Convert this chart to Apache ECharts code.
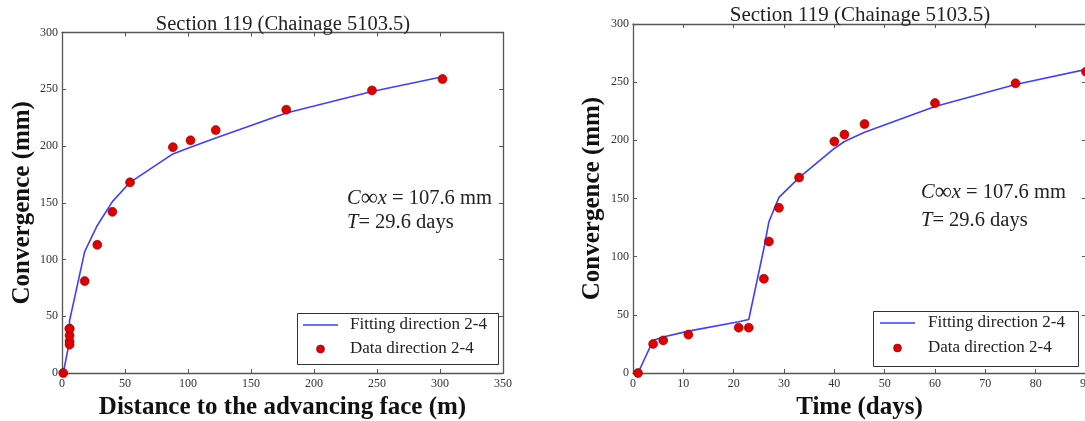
<!DOCTYPE html>
<html>
<head>
<meta charset="utf-8">
<script src="https://cdn.jsdelivr.net/npm/echarts@6/dist/echarts.min.js"></script>
<style>
html,body{margin:0;padding:0;background:#fff;}
#chart{width:1085px;height:421px;}
</style>
</head>
<body>
<div id="chart"></div>
<script>
// ---- data ----
const titleText = 'Section 119 (Chainage 5103.5)';
const distance = [1, 6, 6, 6, 6, 6, 18, 28, 40, 54, 88, 102, 122, 178, 246, 302];   // m
const days     = [1, 4, 6, 11, 21, 23, 26, 27, 29, 33, 40, 42, 46, 60, 76, 90];     // days
const measured = [0, 25, 28, 33, 39, 39, 81, 113, 142, 168, 199, 205, 214, 232, 249, 259];
const fitted   = [0, 28, 31, 36, 44, 46, 107, 130, 151, 168, 193, 199, 207, 229, 248, 261];
const leftXTicks  = {min: 0, max: 350, interval: 50};
const rightXTicks = {min: 0, max: 90, interval: 10};
const yTicks      = {min: 0, max: 300, interval: 50};
const fitName  = 'Fitting direction 2-4';
const dataName = 'Data direction 2-4';

const FONT = 'Liberation Serif';
const AX = '#555';
const LINE_C = '#3f3fff';
const DOT_C = '#e00000';

function pairs(xs, ys){ return xs.map((x,i)=>[x, ys[i]]); }

function xAx(grid, ticks, pos, name){
  return {
    type:'value', gridIndex:grid, position:pos, min:ticks.min, max:ticks.max, interval:ticks.interval,
    axisLine:{show:true, onZero:false, lineStyle:{color:AX, width:1.3}},
    axisTick:{show:true, inside:true, length:4, lineStyle:{color:AX}},
    axisLabel:{show: pos==='bottom', fontFamily:FONT, fontSize:12, color:'#333', margin:5, hideOverlap:false},
    splitLine:{show:false},
    name: name || '', nameLocation:'middle', nameGap:15,
    nameTextStyle:{fontFamily:FONT, fontSize:25, fontWeight:'bold', color:'#111'}
  };
}
function yAx(grid, pos, name, gap){
  return {
    type:'value', gridIndex:grid, position:pos, min:yTicks.min, max:yTicks.max, interval:yTicks.interval,
    axisLine:{show:true, onZero:false, lineStyle:{color:AX, width:1.3}},
    axisTick:{show:true, inside:true, length:4, lineStyle:{color:AX}},
    axisLabel:{show: pos==='left', fontFamily:FONT, fontSize:12, color:'#333', margin:4},
    splitLine:{show:false},
    name: name || '', nameLocation:'middle', nameGap:gap || 27,
    nameTextStyle:{fontFamily:FONT, fontSize:25, fontWeight:'bold', color:'#111'}
  };
}

function annot(x, y1, y2){
  const rich = {i:{fontStyle:'italic', fontFamily:FONT, fontSize:20.5, fill:'#222'},
                inf:{fontFamily:FONT, fontSize:24, fill:'#222'}};
  return [
    {type:'text', x:x, y:y1, z:10, style:{text:'{i|C}{inf|∞}{i|x} = 107.6 mm', rich:rich, font:'20.5px "Liberation Serif"', fill:'#222', verticalAlign:'middle'}},
    {type:'text', x:x, y:y2, z:10, style:{text:'{i|T}= 29.6 days', rich:rich, font:'20.5px "Liberation Serif"', fill:'#222', verticalAlign:'middle'}}
  ];
}

function legendBox(x, y, w, h, lineX, textX, y1, y2){
  return [
    {type:'rect', z:20, shape:{x:x+0.5, y:y+0.5, width:w, height:h}, style:{fill:'#fff', stroke:'#333', lineWidth:1}},
    {type:'line', z:21, shape:{x1:lineX, y1:y1, x2:lineX+35, y2:y1}, style:{stroke:LINE_C, lineWidth:1.6}},
    {type:'circle', z:21, shape:{cx:lineX+17.5, cy:y2, r:4}, style:{fill:DOT_C, stroke:'#8a0000', lineWidth:0.6}},
    {type:'text', z:21, x:textX, y:y1, style:{text:fitName, font:'17px "Liberation Serif"', fill:'#222', verticalAlign:'middle'}},
    {type:'text', z:21, x:textX, y:y2, style:{text:dataName, font:'17px "Liberation Serif"', fill:'#222', verticalAlign:'middle'}}
  ];
}

const chart = echarts.init(document.getElementById('chart'), null, {renderer:'canvas'});
chart.setOption({
  backgroundColor:'#fff',
  animation:false,
  title:[
    {text:titleText, left:278, top:9, textAlign:'center', textStyle:{fontFamily:FONT, fontSize:20.5, fontWeight:'normal', color:'#222'}},
    {text:titleText, left:855, top:0, textAlign:'center', textStyle:{fontFamily:FONT, fontSize:21, fontWeight:'normal', color:'#222'}}
  ],
  grid:[
    {left:62, top:32.5, width:441, height:340.5, outerBoundsMode:'none', containLabel:false},
    {left:633, top:24, width:453, height:349, outerBoundsMode:'none', containLabel:false}
  ],
  xAxis:[
    xAx(0, leftXTicks, 'bottom', 'Distance to the advancing face (m)'),
    xAx(0, leftXTicks, 'top'),
    xAx(1, rightXTicks, 'bottom', 'Time (days)'),
    xAx(1, rightXTicks, 'top')
  ],
  yAxis:[
    yAx(0, 'left', 'Convergence (mm)', 27),
    yAx(0, 'right'),
    yAx(1, 'left', 'Convergence (mm)', 28),
    yAx(1, 'right')
  ],
  series:[
    {name:fitName, type:'line', xAxisIndex:0, yAxisIndex:0, data:pairs(distance, fitted), symbol:'none',
     lineStyle:{color:LINE_C, width:1.6}, itemStyle:{color:LINE_C}, z:2},
    {name:dataName, type:'scatter', xAxisIndex:0, yAxisIndex:0, data:pairs(distance, measured), symbol:'circle', symbolSize:9,
     itemStyle:{color:DOT_C, borderColor:'#8a0000', borderWidth:0.6, opacity:1}, z:3},
    {name:fitName, type:'line', xAxisIndex:2, yAxisIndex:2, data:pairs(days, fitted), symbol:'none',
     lineStyle:{color:LINE_C, width:1.6}, itemStyle:{color:LINE_C}, z:2},
    {name:dataName, type:'scatter', xAxisIndex:2, yAxisIndex:2, data:pairs(days, measured), symbol:'circle', symbolSize:9,
     itemStyle:{color:DOT_C, borderColor:'#8a0000', borderWidth:0.6, opacity:1}, z:3}
  ],
  graphic: annot(347, 199, 223)
    .concat(annot(921, 193, 221))
    .concat(legendBox(297, 313, 201, 51, 303, 350, 325, 349))
    .concat(legendBox(873, 311, 205, 55, 880, 928, 323, 348))
});
</script>
</body>
</html>
